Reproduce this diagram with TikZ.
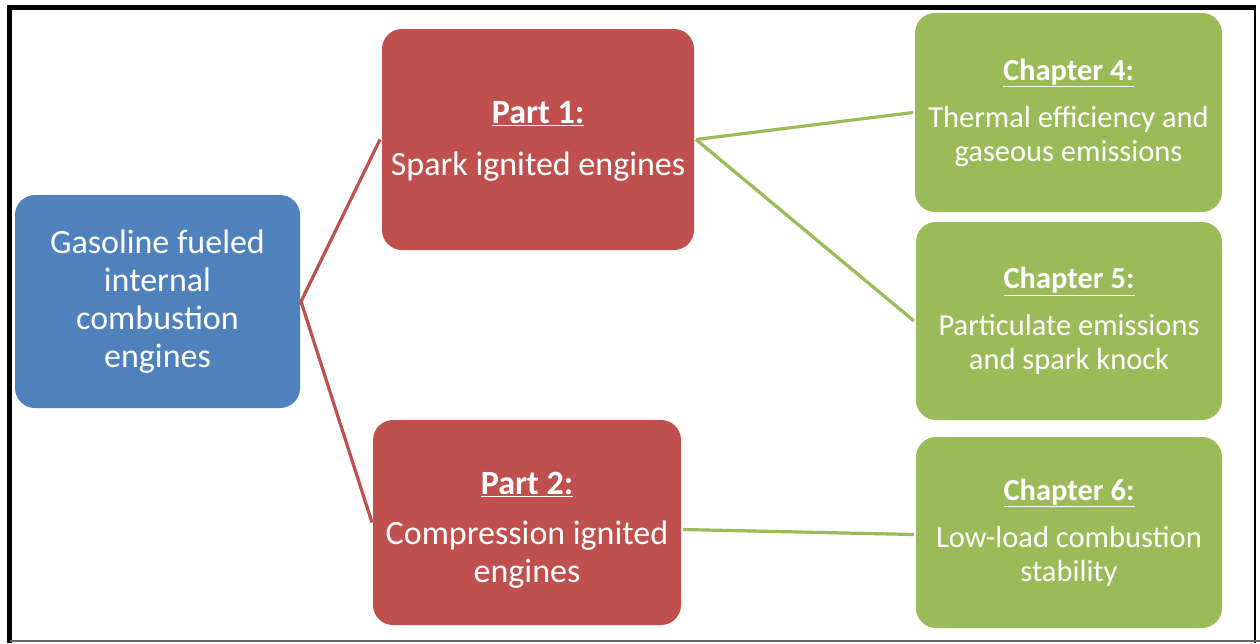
\documentclass[tikz,border=0pt]{standalone}
\usepackage{fontspec}
\setmainfont{Carlito}
\definecolor{topicblue}{HTML}{4F81BD}
\definecolor{partred}{HTML}{C0504D}
\definecolor{chapgreen}{HTML}{9BBB59}
\tikzset{
  box/.style={rounded corners=20pt, draw=none, text=white, align=center,
    inner sep=0pt, outer sep=0pt},
  bluebox/.style={box, fill=topicblue, font=\fontsize{34}{38}\selectfont},
  redbox/.style={box, fill=partred, font=\fontsize{34}{38}\selectfont},
  greenbox/.style={box, fill=chapgreen, font=\fontsize{30.5}{34}\selectfont},
  redlink/.style={draw=partred, line width=3.2pt},
  greenlink/.style={draw=chapgreen, line width=3.2pt},
}
\newcommand{\headline}[1]{\textbf{\underline{#1}}}
% a strut on the first line that lowers the whole text block a little
\newcommand{\lowerby}[1]{\rule{0pt}{\dimexpr 22pt+2\dimexpr #1\relax\relax}}
\begin{document}
\begin{tikzpicture}[x=1pt, y=-1pt]
  \useasboundingbox (0,0) rectangle (1260,643);
  \fill[white] (0,0) rectangle (1260,643);
  % frame
  \draw[line width=5pt] (9.5,643) -- (9.5,7.5) -- (1256,7.5);
  \draw[line width=2pt] (1255,7.5) -- (1255,643);
  \draw[gray!80!black, line width=1.5pt] (9.5,641) -- (1260,641);

  % boxes
  \node[bluebox, minimum width=285pt, minimum height=213pt] (fuel) at (157.5,301.5)
    {Gasoline fueled\\internal\\combustion\\engines};
  \node[redbox, minimum width=312pt, minimum height=221pt] (si) at (538,139.5)
    {\lowerby{2pt}\headline{Part 1:}\\[14pt]Spark ignited engines};
  \node[redbox, minimum width=308pt, minimum height=205pt] (ci) at (527,522.5)
    {\lowerby{8pt}\headline{Part 2:}\\[12pt]Compression ignited\\engines};
  \node[greenbox, minimum width=307pt, minimum height=199pt] (ch4) at (1068.5,112.5)
    {\headline{Chapter 4:}\\[13pt]Thermal efficiency and\\gaseous emissions};
  \node[greenbox, minimum width=306pt, minimum height=198pt] (ch5) at (1069,321)
    {\headline{Chapter 5:}\\[13pt]Particulate emissions\\and spark knock};
  \node[greenbox, minimum width=306pt, minimum height=191pt] (ch6) at (1069,532.5)
    {\headline{Chapter 6:}\\[13pt]Low-load combustion\\stability};

  % connectors
  \draw[redlink] ([xshift=1pt]fuel.east) -- ([xshift=-2pt]si.west);
  \draw[redlink] ([xshift=1pt]fuel.east) -- ([xshift=-1pt]ci.west);
  \draw[greenlink] ([xshift=2pt]si.east) -- ([xshift=-2pt]ch4.west);
  \draw[greenlink] ([xshift=2pt]si.east) -- ([xshift=-2pt]ch5.west);
  \draw[greenlink] ([xshift=2pt,yshift=-7pt]ci.east) -- ([xshift=-2pt,yshift=-2pt]ch6.west);
\end{tikzpicture}
\end{document}
